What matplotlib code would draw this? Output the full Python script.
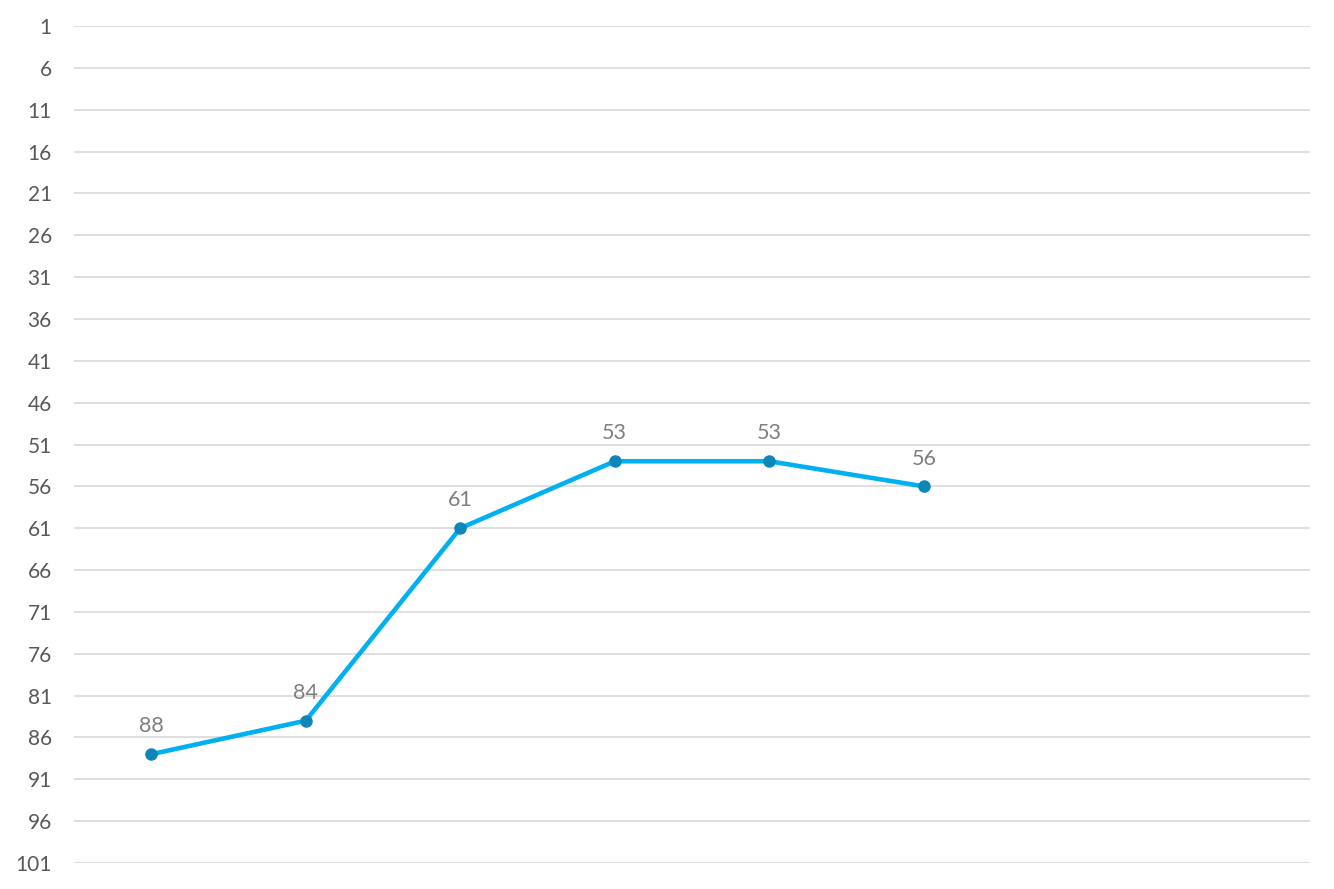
import matplotlib
matplotlib.use("Agg")
import matplotlib.pyplot as plt
import numpy as np

categories = ["1", "2", "3", "4", "5", "6", "7", "8"]
values = [88, 84, 61, 53, 53, 56]
yticks = list(range(1, 102, 5))

plt.rcParams['font.family'] = ['Lato', 'DejaVu Sans']

fig = plt.figure(figsize=(13.34, 8.89), dpi=100)
ax = fig.add_axes([74/1334, 1-863/889, (1310-74)/1334, (863-26)/889])

x = np.arange(len(values))
ax.plot(x, values, color="#00B0F0", lw=3.3, zorder=3, solid_capstyle='round')
ax.plot(x, values, 'o', color="#0E86B8", ms=8, zorder=4)
for xi, v in zip(x, values):
    ax.annotate(str(v), (xi, v), xytext=(0, 20), textcoords='offset points',
                ha='center', va='center', fontsize=15.5, color="#7F7F7F")

ax.set_xlim(-0.5, len(categories) - 0.5)
ax.set_ylim(101, 1)
ax.set_yticks(yticks)
ax.set_yticklabels([str(t) for t in yticks], fontsize=15, color="#595959")
ax.set_xticks([])
ax.grid(axis='y', color="#D9D9D9", lw=1.2)
ax.tick_params(axis='y', length=0, pad=16)
for s in ax.spines.values():
    s.set_visible(False)
ax.set_axisbelow(True)

fig.savefig("out.png", dpi=100)
